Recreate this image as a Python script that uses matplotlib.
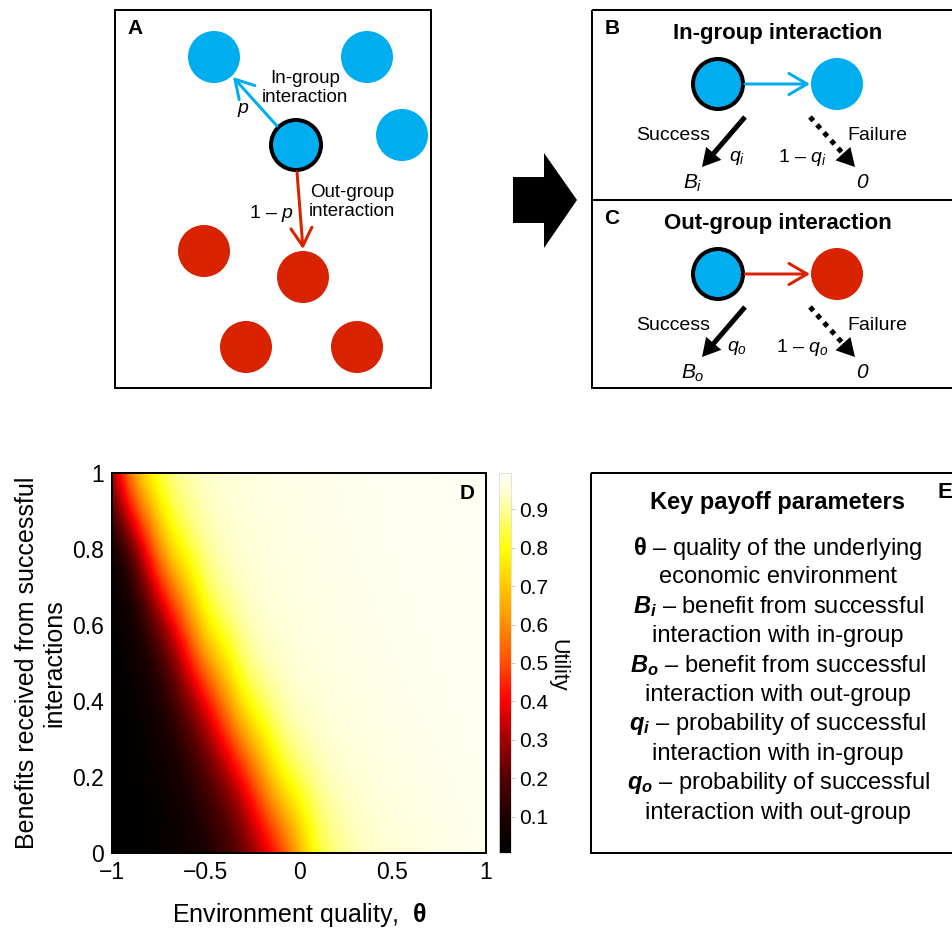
import matplotlib
matplotlib.use("Agg")
import matplotlib.pyplot as plt
import numpy as np
from matplotlib.patches import Rectangle, Circle, Polygon
from matplotlib.colors import LinearSegmentedColormap

plt.rcParams['font.family'] = ['Liberation Sans', 'DejaVu Sans']
plt.rcParams['mathtext.fontset'] = 'custom'
plt.rcParams['mathtext.rm'] = 'Liberation Sans'
plt.rcParams['mathtext.it'] = 'Liberation Sans:italic'
plt.rcParams['mathtext.bf'] = 'Liberation Sans:bold'
plt.rcParams['mathtext.bfit'] = 'Liberation Sans:italic:bold'
plt.rcParams['mathtext.sf'] = 'Liberation Sans'

# ---------------- data (panel D heatmap) ----------------
theta_vals = [-1.0, -0.9, -0.8, -0.7, -0.6, -0.5, -0.4, -0.3, -0.2, -0.1, 0.0,
              0.1, 0.2, 0.3, 0.4, 0.5, 0.6, 0.7, 0.8, 0.9, 1.0]
benefit_vals = [0.0, 0.2, 0.4, 0.6, 0.8, 1.0]
u_B00 = [0.01, 0.01, 0.01, 0.02, 0.04, 0.08, 0.13, 0.20, 0.29, 0.40, 0.62,
         0.82, 0.88, 0.92, 0.94, 0.955, 0.962, 0.97, 0.975, 0.978, 0.98]
u_B02 = [0.01, 0.012, 0.02, 0.05, 0.10, 0.17, 0.25, 0.38, 0.60, 0.82, 0.88,
         0.92, 0.948, 0.957, 0.965, 0.972, 0.975, 0.977, 0.98, 0.982, 0.984]
u_B04 = [0.01, 0.017, 0.05, 0.12, 0.22, 0.36, 0.58, 0.82, 0.895, 0.925, 0.953,
         0.96, 0.968, 0.972, 0.975, 0.978, 0.98, 0.982, 0.984, 0.985, 0.986]
u_B06 = [0.01, 0.05, 0.14, 0.28, 0.53, 0.81, 0.885, 0.925, 0.952, 0.96, 0.968,
         0.972, 0.975, 0.977, 0.979, 0.981, 0.983, 0.984, 0.985, 0.986, 0.987]
u_B08 = [0.02, 0.14, 0.44, 0.76, 0.86, 0.91, 0.94, 0.955, 0.963, 0.97, 0.973,
         0.976, 0.978, 0.98, 0.982, 0.984, 0.985, 0.986, 0.987, 0.988, 0.988]
u_B10 = [0.30, 0.68, 0.84, 0.90, 0.925, 0.95, 0.958, 0.966, 0.971, 0.974, 0.977,
         0.979, 0.98, 0.982, 0.984, 0.985, 0.986, 0.987, 0.988, 0.989, 0.99]
x_ticks = [-1, -0.5, 0, 0.5, 1]
x_tick_labels = ['\u22121', '\u22120.5', '0', '0.5', '1']
y_ticks = [0, 0.2, 0.4, 0.6, 0.8, 1]
y_tick_labels = ['0', '0.2', '0.4', '0.6', '0.8', '1']
cbar_ticks = [0.1, 0.2, 0.3, 0.4, 0.5, 0.6, 0.7, 0.8, 0.9]

# ---------------- diagram content (panels A-C, E) ----------------
blue_others = [(214, 57), (367, 57), (402, 135)]
red_others = [(204, 251), (303, 277), (246, 347), (357, 347)]
focal = (296, 145)

DASH = ' \u2013 '
e_lines = [r"$\mathbf{\theta}$" + DASH + "quality of the underlying",
           "economic environment",
           r"$\mathbfit{B_i}$" + DASH + "benefit from successful",
           "interaction with in-group",
           r"$\mathbfit{B_o}$" + DASH + "benefit from successful",
           "interaction with out-group",
           r"$\mathbfit{q_i}$" + DASH + "probability of successful",
           "interaction with in-group",
           r"$\mathbfit{q_o}$" + DASH + "probability of successful",
           "interaction with out-group"]

BLUE = '#00AEEF'
RED = '#D82200'
PX = 0.72  # points per pixel at 100 dpi

fig = plt.figure(figsize=(9.53, 9.35), dpi=100)
ov = fig.add_axes([0, 0, 1, 1])
ov.set_xlim(0, 953)
ov.set_ylim(935, 0)
ov.axis('off')
ov.patch.set_visible(False)

# ---- panel borders
for (x0, y0, w, h) in [(115, 10, 316, 378), (592, 10, 420, 190),
                       (592, 200, 420, 188), (591, 473, 420, 380)]:
    ov.add_patch(Rectangle((x0, y0), w, h, fill=False, lw=2 * PX, ec='black'))

# ---- panel A
R = 26
for (cx, cy) in blue_others:
    ov.add_patch(Circle((cx, cy), R, fc=BLUE, ec='none'))
for (cx, cy) in red_others:
    ov.add_patch(Circle((cx, cy), R, fc=RED, ec='none'))
ov.add_patch(Circle(focal, 25, fc=BLUE, ec='black', lw=4 * PX, zorder=3))

ov.annotate('', xy=(233, 77), xytext=(277, 126),
            arrowprops=dict(arrowstyle='->,head_length=0.65,head_width=0.38',
                            lw=3 * PX, color=BLUE, mutation_scale=20,
                            shrinkA=0, shrinkB=0))
ov.annotate('', xy=(303, 249), xytext=(297, 172),
            arrowprops=dict(arrowstyle='->,head_length=0.65,head_width=0.38',
                            lw=3 * PX, color=RED, mutation_scale=20,
                            shrinkA=0, shrinkB=0))
ov.text(135, 29, 'A', fontsize=15, fontweight='bold', ha='center', va='center')
ov.text(305, 88, 'In-group\ninteraction', fontsize=13.5, ha='center', va='center',
        linespacing=1.1)
ov.text(243, 110, '$p$', fontsize=14, ha='center', va='center')
ov.text(352, 202, 'Out-group\ninteraction', fontsize=13.5, ha='center', va='center',
        linespacing=1.1)
ov.text(271, 214, '1 \u2013 $p$', fontsize=14, ha='center', va='center')

# ---- big arrow
ov.add_patch(Polygon([(513, 177), (544, 177), (544, 153), (577, 200),
                      (544, 248), (544, 223), (513, 223)], closed=True,
                     fc='black', ec='none'))


def branch_panel(y_top, letter, title, target_color, sub):
    yc = y_top + 74
    ov.text(612, y_top + 18, letter, fontsize=15, fontweight='bold',
            ha='center', va='center')
    ov.text(778, y_top + 23, title, fontsize=16, fontweight='bold',
            ha='center', va='center')
    ov.add_patch(Circle((718, yc), 25, fc=BLUE, ec='black', lw=4 * PX, zorder=3))
    ov.add_patch(Circle((837, yc), R, fc=target_color, ec='none'))
    ov.annotate('', xy=(810, yc), xytext=(745, yc),
                arrowprops=dict(arrowstyle='->,head_length=0.65,head_width=0.38',
                                lw=3 * PX, color=target_color,
                                mutation_scale=20, shrinkA=0, shrinkB=0))
    y0 = y_top + 107
    y1 = y_top + 157
    # solid success arrow
    ov.arrow(745, y0, 702 - 745, y1 - y0, width=5, head_width=20,
             head_length=18, length_includes_head=True, fc='black', ec='none')
    # dotted failure arrow
    dx, dy = 855 - 810, y1 - y0
    L = np.hypot(dx, dy)
    ux, uy = dx / L, dy / L
    hl = 18
    ov.plot([810, 855 - ux * hl], [y0, y1 - uy * hl], color='black', lw=5 * PX,
            linestyle=(0, (1, 1.1)), dash_capstyle='butt')
    ov.arrow(855 - ux * (hl + 1), y1 - uy * (hl + 1), ux * (hl + 1), uy * (hl + 1),
             width=0.1, head_width=20, head_length=hl, length_includes_head=True,
             fc='black', ec='none')
    ov.text(673, y_top + 125, 'Success', fontsize=14, ha='center', va='center')
    ov.text(877, y_top + 125, 'Failure', fontsize=14, ha='center', va='center')
    ov.text(737, y_top + 148, '$q_%s$' % sub, fontsize=14, ha='center', va='center')
    ov.text(802, y_top + 148, '1 \u2013 $q_%s$' % sub, fontsize=14, ha='center',
            va='center')
    ov.text(693, y_top + 173, '$B_%s$' % sub, fontsize=15, ha='center', va='center')
    ov.text(862, y_top + 173, '0', fontsize=15, fontstyle='italic', ha='center',
            va='center')


branch_panel(10, 'B', 'In-group interaction', BLUE, 'i')
branch_panel(200, 'C', 'Out-group interaction', RED, 'o')

# ---- panel E
ov.text(938, 492, 'E', fontsize=16, fontweight='bold', ha='left', va='center')
ov.text(778, 503, 'Key payoff parameters', fontsize=17, fontweight='bold',
        ha='center', va='center')
for k, line in enumerate(e_lines):
    ov.text(778, 548 + 29.4 * k, line, fontsize=17, ha='center', va='center')

# ---------------- panel D heatmap ----------------
cmap = LinearSegmentedColormap.from_list('utility', [
    (0.0, (0.0, 0.0, 0.0)),
    (0.1, (0.12, 0.0, 0.0)),
    (0.2, (0.34, 0.0, 0.0)),
    (0.3, (0.64, 0.0, 0.0)),
    (0.4, (1.0, 0.0, 0.0)),
    (0.5, (1.0, 0.30, 0.0)),
    (0.6, (1.0, 0.55, 0.0)),
    (0.7, (1.0, 0.78, 0.0)),
    (0.8, (1.0, 1.0, 0.0)),
    (0.9, (1.0, 1.0, 0.55)),
    (0.95, (1.0, 1.0, 0.80)),
    (1.0, (1.0, 1.0, 0.97)),
])

U = np.array([u_B00, u_B02, u_B04, u_B06, u_B08, u_B10])
dth = theta_vals[1] - theta_vals[0]
dB = benefit_vals[1] - benefit_vals[0]

ax = fig.add_axes([112 / 953, 1 - 853 / 935, 374 / 953, 380 / 935])
im = ax.imshow(U, origin='lower', aspect='auto', cmap=cmap, vmin=0.005, vmax=0.995,
               extent=[theta_vals[0] - dth / 2, theta_vals[-1] + dth / 2,
                       benefit_vals[0] - dB / 2, benefit_vals[-1] + dB / 2],
               interpolation='bicubic', interpolation_stage='data')
ax.set_xlim(-1, 1)
ax.set_ylim(0, 1)
ax.set_xticks(x_ticks)
ax.set_xticklabels(x_tick_labels)
ax.set_yticks(y_ticks)
ax.set_yticklabels(y_tick_labels)
ax.tick_params(length=0, labelsize=16.5, pad=6)
for s in ax.spines.values():
    s.set_linewidth(2 * PX)
ax.set_xlabel(r'Environment quality,  $\mathbf{\theta}$', fontsize=18, labelpad=12)
ax.set_ylabel('Benefits received from successful\ninteractions', fontsize=18,
              labelpad=4, linespacing=1.15)
ax.text(0.97, 0.972, 'D', transform=ax.transAxes, ha='right', va='top',
        fontsize=15, fontweight='bold')

cax = fig.add_axes([499 / 953, 1 - 853 / 935, 12 / 953, 380 / 935])
cb = fig.colorbar(im, cax=cax, ticks=cbar_ticks)
cb.outline.set_edgecolor('#dddddd')
cb.outline.set_linewidth(0.6)
cax.tick_params(length=3, width=0.6, color='#bbbbbb', labelsize=15, pad=3)
ov.text(558, 665, 'Utility', rotation=270, fontsize=15.5, ha='center', va='center')

fig.savefig('out.png', dpi=100)
